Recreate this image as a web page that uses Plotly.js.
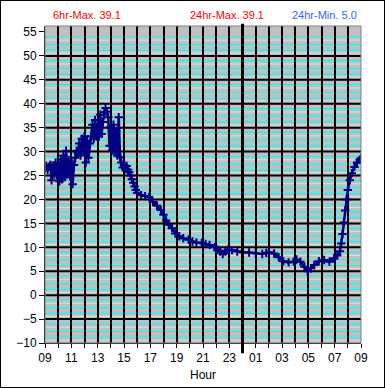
<!DOCTYPE html>
<html>
<head>
<meta charset="utf-8">
<script src="https://cdn.plot.ly/plotly-3.0.1.min.js"></script>
<style>
  html, body { margin: 0; padding: 0; background: white; }
  #chart { width: 385px; height: 388px; }
  #frame { position: absolute; left: 0; top: 0; width: 385px; height: 388px; box-sizing: border-box; border: 1px solid black; pointer-events: none; }
</style>
</head>
<body>
<div id="chart"></div>
<div id="frame"></div>
<script>
// Hours elapsed since 09:00
const hours = [
  0.0,0.1,0.2,0.3,0.4,0.5,0.6,0.7,0.8,0.9,
  1.0,1.1,1.2,1.3,1.4,1.5,1.6,1.7,1.8,1.9,
  2.0,2.1,2.2,2.3,2.4,2.5,2.6,2.7,2.8,2.9,
  3.0,3.1,3.2,3.3,3.4,3.5,3.6,3.7,3.8,3.9,
  4.0,4.1,4.2,4.3,4.4,4.5,4.6,4.7,4.8,4.9,
  5.0,5.1,5.2,5.3,5.4,5.5,5.6,5.7,5.8,5.9,
  6.0,6.1,6.2,6.3,6.4,6.5,6.6,6.7,6.8,6.9,
  7.0,7.3,7.6,7.9,8.2,8.5,8.8,9.0,9.2,9.4,
  9.65,9.9,10.2,10.5,10.9,11.2,11.5,11.9,12.2,12.5,
  12.9,13.1,13.3,13.5,13.7,13.9,14.2,14.6,15.0,15.5,
  16.0,16.5,16.8,17.0,17.4,17.75,18.1,18.5,18.9,19.1,
  19.4,19.7,19.95,20.2,20.45,20.8,21.2,21.6,21.95,22.2,
  22.4,22.5,22.6,22.7,22.8,22.9,23.0,23.15,23.3,23.5,
  23.7,23.9,24.0
];
// Temperature readings
const temps = [
  26.4,27.0,26.2,26.8,27.2,24.0,26.7,25.2,27.7,25.0,
  27.2,23.8,28.4,24.2,29.2,24.7,30.2,25.2,28.2,24.8,
  27.7,23.2,27.2,28.7,30.2,29.7,31.7,29.2,32.7,30.2,
  33.2,27.7,32.2,28.7,31.7,33.2,35.6,32.7,36.6,33.2,
  35.7,33.2,37.7,33.7,36.2,38.2,39.1,38.4,37.2,31.2,
  35.2,30.2,35.6,29.8,34.2,29.2,37.2,28.8,27.7,26.7,
  27.2,26.4,27.0,26.2,25.7,25.0,24.2,23.5,22.7,22.0,
  21.4,20.9,20.7,20.5,19.5,18.7,17.8,16.8,15.6,14.7,
  14.0,12.9,12.3,11.9,11.6,11.2,11.0,10.9,10.7,10.5,
  10.0,9.5,9.1,8.6,9.1,9.5,9.4,9.1,8.95,8.9,
  8.75,8.6,8.8,8.95,8.7,7.9,7.1,6.85,7.0,7.45,
  7.0,5.95,5.0,5.6,6.3,7.1,7.35,7.0,7.7,8.3,
  9.2,10.8,12.8,15.2,17.7,20.0,22.0,24.0,25.5,26.8,
  27.7,28.3,28.6
];
const hourTicks = [0,1,2,3,4,5,6,7,8,9,10,11,12,13,14,15,16,17,18,19,20,21,22,23,24];
const hourLabels = ['09','','11','','13','','15','','17','','19','','21','','23','','01','','03','','05','','07','','09'];
const tempTicks = [-10,-5,0,5,10,15,20,25,30,35,40,45,50,55];
const summaryTexts = ['6hr-Max. 39.1','24hr-Max. 39.1','24hr-Min. 5.0'];

const yMin = -10, yMax = 56.25;
const navy = '#000080';

const shapes = [];
// minor stripes (cyan and light) below each major level
const cyanOffsets = [1.0, 2.6, 3.8];
const lightOffsets = [1.7, 4.4];
for (let V = -5; V <= 55; V += 5) {
  lightOffsets.forEach(o => shapes.push({type:'line', xref:'paper', yref:'y', x0:0, x1:1, y0:V-o, y1:V-o, layer:'below', line:{color:'#dcdcdc', width:1}}));
  cyanOffsets.forEach(o => shapes.push({type:'line', xref:'paper', yref:'y', x0:0, x1:1, y0:V-o, y1:V-o, layer:'below', line:{color:'#00ffff', width:1.2}}));
}
// major black horizontal gridlines
tempTicks.filter(v => v > -10 && v < 55).forEach(v => shapes.push({type:'line', xref:'paper', yref:'y', x0:0, x1:1, y0:v, y1:v, layer:'below', line:{color:'#000000', width:2}}));
// plot border
shapes.push({type:'rect', xref:'paper', yref:'paper', x0:0, x1:1, y0:0, y1:1, layer:'above', line:{color:'#808080', width:1}});
// midnight marker
shapes.push({type:'line', xref:'x', yref:'paper', x0:15, x1:15, y0:-0.032, y1:1.007, layer:'above', line:{color:'black', width:3}});

const trace = {
  x: hours, y: temps, type: 'scatter', mode: 'lines+markers',
  line: {color: navy, width: 2.5},
  marker: {symbol: 'cross-thin', size: 6, color: navy, line: {color: navy, width: 2}},
  hoverinfo: 'skip', cliponaxis: true
};

const layout = {
  width: 385, height: 388,
  margin: {l: 45, r: 24, t: 26, b: 45},
  paper_bgcolor: 'white', plot_bgcolor: '#c0c0c0',
  showlegend: false,
  font: {family: '"Liberation Sans", Arial, sans-serif', size: 12, color: 'black'},
  xaxis: {
    range: [0, 24], tickmode: 'array', tickvals: hourTicks, ticktext: hourLabels,
    showgrid: true, gridcolor: '#000000', gridwidth: 2, zeroline: false,
    ticks: 'outside', ticklen: 4, tickcolor: 'black',
    showline: true, linecolor: 'black', linewidth: 1,
    tickfont: {size: 12, color: 'black'},
    title: {text: 'Hour', font: {size: 12, color: 'black'}, standoff: 6},
    automargin: false, fixedrange: true
  },
  yaxis: {
    range: [yMin, yMax], tickmode: 'array', tickvals: tempTicks,
    showgrid: false, zeroline: false,
    ticks: 'outside', ticklen: 5, tickcolor: 'black',
    showline: true, linecolor: 'black', linewidth: 1,
    tickfont: {size: 12, color: 'black'},
    automargin: false, fixedrange: true
  },
  shapes: shapes,
  annotations: [
    {text: summaryTexts[0], xref: 'paper', yref: 'paper', x: 0.133, y: 1.036, showarrow: false, xanchor: 'center', yanchor: 'middle', font: {size: 11, color: '#ff0000'}},
    {text: summaryTexts[1], xref: 'paper', yref: 'paper', x: 0.576, y: 1.036, showarrow: false, xanchor: 'center', yanchor: 'middle', font: {size: 11, color: '#ff0000'}},
    {text: summaryTexts[2], xref: 'paper', yref: 'paper', x: 0.883, y: 1.036, showarrow: false, xanchor: 'center', yanchor: 'middle', font: {size: 11, color: '#3366ff'}}
  ]
};

Plotly.newPlot('chart', [trace], layout, {displayModeBar: false, staticPlot: true});
</script>
</body>
</html>
